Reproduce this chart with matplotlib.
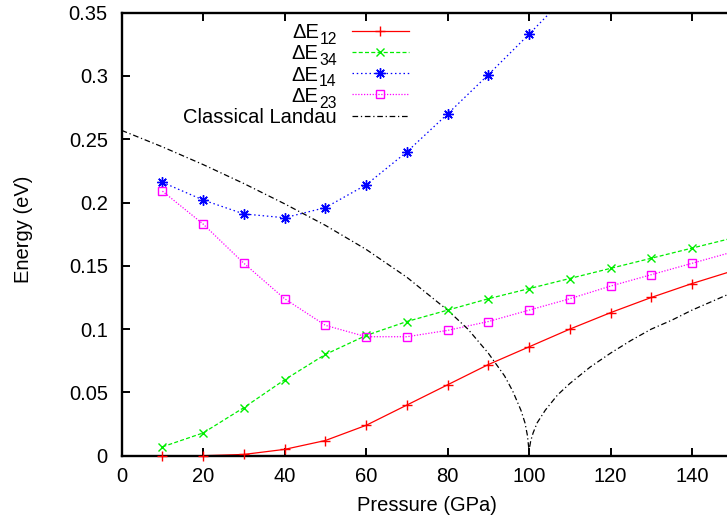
import matplotlib
matplotlib.use("Agg")
import matplotlib.pyplot as plt
import matplotlib.transforms as mtransforms
import numpy as np

plt.rcParams['font.family'] = ['Liberation Sans', 'DejaVu Sans']

# ---------------- data ----------------
pressure = [10, 20, 30, 40, 50, 60, 70, 80, 90, 100, 110, 120, 130, 140, 150]
de12 = [0.000, 0.000, 0.001, 0.005, 0.012, 0.024, 0.040, 0.056, 0.072, 0.086, 0.100, 0.113, 0.125, 0.136, 0.146]
de34 = [0.007, 0.018, 0.038, 0.060, 0.080, 0.095, 0.106, 0.115, 0.124, 0.132, 0.140, 0.148, 0.156, 0.164, 0.172]
de23 = [0.209, 0.183, 0.152, 0.124, 0.103, 0.094, 0.094, 0.099, 0.106, 0.115, 0.124, 0.134, 0.143, 0.152, 0.161]

pressure14 = [10, 20, 30, 40, 50, 60, 70, 80, 90, 100, 110]
de14 = [0.216, 0.202, 0.191, 0.188, 0.196, 0.214, 0.240, 0.270, 0.301, 0.333, 0.366]

landau_p = [0, 10, 20, 30, 40, 50, 60, 70, 80, 85, 90, 94, 96, 98, 99, 99.6, 100,
            100.4, 101, 102, 104, 107, 110, 115, 120, 125, 130, 135, 140, 145, 150]
landau_e = [0.257, 0.244, 0.230, 0.215, 0.199, 0.182, 0.163, 0.141, 0.115, 0.100, 0.081,
            0.063, 0.051, 0.036, 0.026, 0.016, 0.004,
            0.0115, 0.018, 0.026, 0.036, 0.048, 0.057, 0.070, 0.081, 0.091, 0.100,
            0.107, 0.115, 0.122, 0.129]

label_main = ['ΔE', 'ΔE', 'ΔE', 'ΔE', 'Classical Landau']
label_sub = ['12', '34', '14', '23', '']
xticks = [0, 20, 40, 60, 80, 100, 120, 140]
yticks = [0, 0.05, 0.1, 0.15, 0.2, 0.25, 0.3, 0.35]
ytick_labels = ['0', '0.05', '0.1', '0.15', '0.2', '0.25', '0.3', '0.35']
xlabel = 'Pressure (GPa)'
ylabel = 'Energy (eV)'

XMAX, YMAX = 148.6, 0.35
FS = 14.5

# ---------------- styles ----------------
styles = [
    dict(color='#ff0000', dashes=None, marker='+', ms=7, mew=1.0),
    dict(color='#00ee00', dashes=(3.2, 1.8), marker='x', ms=6, mew=1.0),
    dict(color='#0000ff', dashes=(1.2, 2.2), marker=(8, 2, 0), ms=7.5, mew=1.0),
    dict(color='#ff00ff', dashes=(1.0, 1.3), marker='s', ms=5.5, mew=1.0),
    dict(color='#000000', dashes=(4.5, 2.2, 1.0, 2.2), marker=None, ms=0, mew=0),
]
LW = 0.9

fig = plt.figure(figsize=(7.27, 5.25), dpi=100)
ax = fig.add_axes([121.7 / 727, 1 - 455.7 / 525, (727 - 121.7) / 727, (455.7 - 12.7) / 525])

series = [(pressure, de12), (pressure, de34), (pressure14, de14), (pressure, de23), (landau_p, landau_e)]

for (xs, ys), st in zip(series, styles):
    xs = np.asarray(xs, float)
    ys = np.asarray(ys, float)
    line, = ax.plot(xs, ys, color=st['color'], lw=LW)
    if st['dashes'] is not None:
        line.set_dashes(st['dashes'])
    if st['marker'] is not None:
        m = (ys <= YMAX) & (xs <= XMAX)
        ax.plot(xs[m], ys[m], ls='none', marker=st['marker'], ms=st['ms'], mew=st['mew'],
                color=st['color'], mfc='none', clip_on=False, zorder=3)

ax.set_xlim(0, XMAX)
ax.set_ylim(0, YMAX)
ax.set_xticks(xticks)
ax.set_xticklabels([str(t) for t in xticks])
ax.set_yticks(yticks)
ax.set_yticklabels(ytick_labels)

for s in ['left', 'bottom', 'top']:
    ax.spines[s].set_linewidth(1.7)
ax.spines['right'].set_visible(False)

ax.tick_params(axis='both', direction='in', length=6, width=1.4, labelsize=FS)
ax.tick_params(axis='x', top=True, pad=8)
ax.tick_params(axis='y', right=False, pad=10)

ax.set_xlabel(xlabel, fontsize=FS)
ax.xaxis.set_label_coords(0.505, -0.092)
ax.set_ylabel(ylabel, fontsize=FS)
ax.yaxis.set_label_coords(-0.147, 0.51)

# ---------------- key (gnuplot style, text left of sample) ----------------
key_top = (455.7 - 30.7) / 443.0
key_step = 21.25 / 443.0
x_text = (336.7 - 121.7) / 605.3
x_l0 = (352 - 121.7) / 605.3
x_l1 = (409 - 121.7) / 605.3
x_m = 0.5 * (x_l0 + x_l1)

fig.canvas.draw()
renderer = fig.canvas.get_renderer()
for i, (main, sub, st) in enumerate(zip(label_main, label_sub, styles)):
    yy = key_top - i * key_step
    shift = 0.0
    if sub:
        tr_sub = mtransforms.offset_copy(ax.transAxes, fig=fig, x=0, y=-13.2, units='dots')
        ts = ax.text(x_text, yy, sub, transform=tr_sub, ha='right', va='baseline',
                     fontsize=FS * 0.78)
        shift = ts.get_window_extent(renderer).width + 0.5
    tr = mtransforms.offset_copy(ax.transAxes, fig=fig, x=-shift, y=-7.4, units='dots')
    ax.text(x_text, yy, main, transform=tr, ha='right', va='baseline', fontsize=FS)
    ln, = ax.plot([x_l0, x_l1], [yy, yy], transform=ax.transAxes, color=st['color'],
                  lw=LW, clip_on=False)
    if st['dashes'] is not None:
        ln.set_dashes(st['dashes'])
    if st['marker'] is not None:
        ax.plot([x_m], [yy], transform=ax.transAxes, ls='none', marker=st['marker'],
                ms=st['ms'], mew=st['mew'], color=st['color'], mfc='none', clip_on=False)

fig.savefig('out.png', dpi=100)
